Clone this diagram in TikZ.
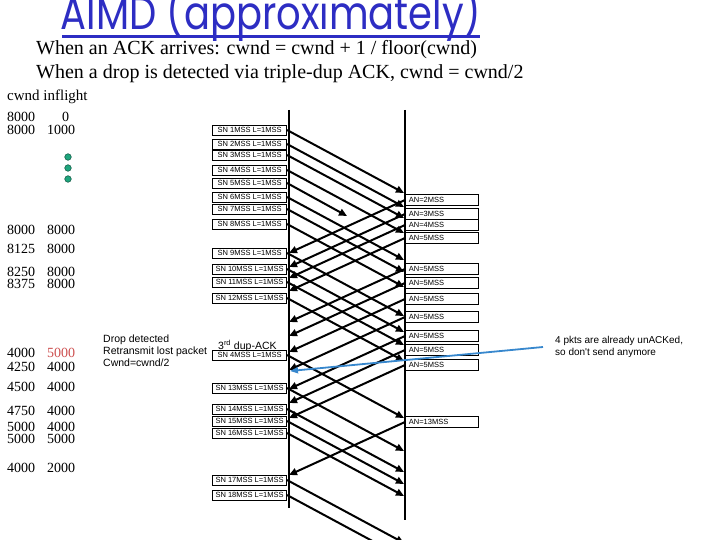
\documentclass[tikz,border=0pt]{standalone}
\usepackage{fontspec}
\setmainfont{Liberation Serif}
\newfontfamily\boxfont{Liberation Sans}
\newfontfamily\titlefont{Poppins}
\usetikzlibrary{arrows.meta}

\begin{document}
\begin{tikzpicture}[x=1pt,y=-1pt,
    snbox/.style={draw, line width=0.8pt, minimum width=74pt, minimum height=10pt, inner sep=0pt,
      font=\boxfont\fontsize{7.5}{7.5}\selectfont},
    anbox/.style={draw, line width=0.8pt, minimum height=11pt, text width=66pt, inner xsep=3.5pt,
      inner ysep=0pt, align=left, font=\boxfont\fontsize{7.5}{7.5}\selectfont},
    pkt/.style={line width=2pt, -{Triangle[length=8pt,width=7pt]}},
    num/.style={anchor=base west, inner sep=0pt, font=\fontsize{14}{14}\selectfont},
    note/.style={anchor=base west, inner sep=0pt, font=\boxfont\fontsize{10.5}{10.5}\selectfont}]
        % Define timeline properties
        \def\sndx{289}
        \def\rcvx{405}
        
        % Colours of the slide
        \definecolor{titleblue}{RGB}{45, 45, 195}
        \definecolor{numred}{RGB}{205, 80, 80}
        \definecolor{dotgreen}{RGB}{30, 165, 125}
        \definecolor{noteblue}{RGB}{55, 135, 205}
        
        \useasboundingbox (0,0) rectangle (720,540);
        
        % Title and the two rules
        \node[anchor=base, inner sep=0pt, text=titleblue, yscale=1.2, font=\titlefont\fontsize{38.5}{38.5}\selectfont] (title) at (271,30) {AIMD (approximately)};
        \coordinate (ulstart) at (62,36.5);
        \coordinate (ulend) at (480,36.5);
        \draw[draw=titleblue, line width=3pt] (ulstart) -- (ulend);
        \node[anchor=base west, inner sep=0pt, font=\fontsize{20}{20}\selectfont] (rule1) at (36,55) {When an ACK arrives: cwnd = cwnd + 1 / floor(cwnd)};
        \node[anchor=base west, inner sep=0pt, font=\fontsize{20}{20}\selectfont] (rule2) at (36,79) {When a drop is detected via triple-dup ACK, cwnd = cwnd/2};
        
        % cwnd and inflight columns
        \node[num, font=\fontsize{15}{15}\selectfont] (head) at (7,101) {cwnd inflight};
        \node[num] (cw0) at (7,122) {8000};
        \node[num] (fl0) at (62,122) {0};
        \foreach \y/\cw/\fl [count=\i] in {135/8000/1000, 235/8000/8000, 253/8125/8000, 276/8250/8000,
            288/8375/8000, 371/4250/4000, 391/4500/4000, 415/4750/4000, 431/5000/4000, 443/5000/5000, 472/4000/2000} {
          \node[num] (cw\i) at (7,\y) {\cw};
          \node[num] (fl\i) at (47,\y) {\fl};
        }
        \node[num] (cwdrop) at (7,357) {4000};
        \node[num, text=numred] (fldrop) at (47,357) {5000};
        
        % Dots for the omitted rows
        \foreach \y in {157,168,179}
          \filldraw[fill=dotgreen, draw=black!50!dotgreen, line width=0.5pt] (68,\y) circle (3.3pt);
        
        % Sender and receiver timelines
        \coordinate (sndtop) at (\sndx,110);
        \coordinate (sndbot) at (\sndx,508);
        \coordinate (rcvtop) at (\rcvx,110);
        \coordinate (rcvbot) at (\rcvx,520);
        \draw[line width=1.3pt] (sndtop) -- (sndbot);
        \draw[line width=1.3pt] (rcvtop) -- (rcvbot);
        
        % Drop notes
        \node[note] (drop1) at (103,342) {Drop detected};
        \node[note] (drop2) at (103,354) {Retransmit lost packet};
        \node[note] (drop3) at (103,366) {Cwnd=cwnd/2};
        \node[note] (dupack) at (218,349.5) {3\textsuperscript{rd} dup-ACK};
        
        % Segments sent
        \foreach \y/\sn/\nm in {130/1/sn1, 144/2/sn2, 155/3/sn3, 170/4/sn4, 183/5/sn5, 197/6/sn6, 209/7/sn7,
            224/8/sn8, 253/9/sn9, 269/10/sn10, 282/11/sn11, 298/12/sn12, 355/4/snre, 388/13/sn13,
            409/14/sn14, 421/15/sn15, 433/16/sn16, 480/17/sn17, 495/18/sn18}
          \node[snbox, anchor=east] (\nm) at (287,\y) {SN \sn MSS L=1MSS};
        
        % ACKs returned
        \foreach \y/\an [count=\i] in {200/2, 214/3, 225/4, 238/5, 269/5, 283/5, 299/5, 317/5, 336/5, 350/5, 365/5, 422/13}
          \node[anbox, anchor=west] (an\i) at (\rcvx,\y) {AN=\an MSS};
        
        % Data travels to the receiver, segment 5 is lost
        \foreach \nm in {sn1,sn2,sn3,sn4,sn6,sn7,sn8,sn9,sn10,sn11,sn12,snre,sn13,sn14,sn15,sn16,sn17,sn18}
          \draw[pkt] (\nm.east) -- ++(117,63);
        \draw[pkt] (sn5.east) -- ++(60,33);
        
        % ACKs travel back to the sender
        \foreach \i in {1,...,12}
          \draw[pkt] (an\i.west) -- ++(-116,53);
        
        % Note on the unACKed packets
        \node[note, font=\boxfont\fontsize{10}{10}\selectfont] (unacked) at (555,343) {4 pkts are already unACKed,};
        \node[note, font=\boxfont\fontsize{10}{10}\selectfont] (nosend) at (555,355) {so don't send anymore};
        \coordinate (noteend) at (290,371);
        \draw[noteblue, line width=1.8pt, -{Triangle[length=8pt,width=6pt]}] ([xshift=-12pt,yshift=-4pt]unacked.base west) -- (noteend);
    \end{tikzpicture}
\end{document}
